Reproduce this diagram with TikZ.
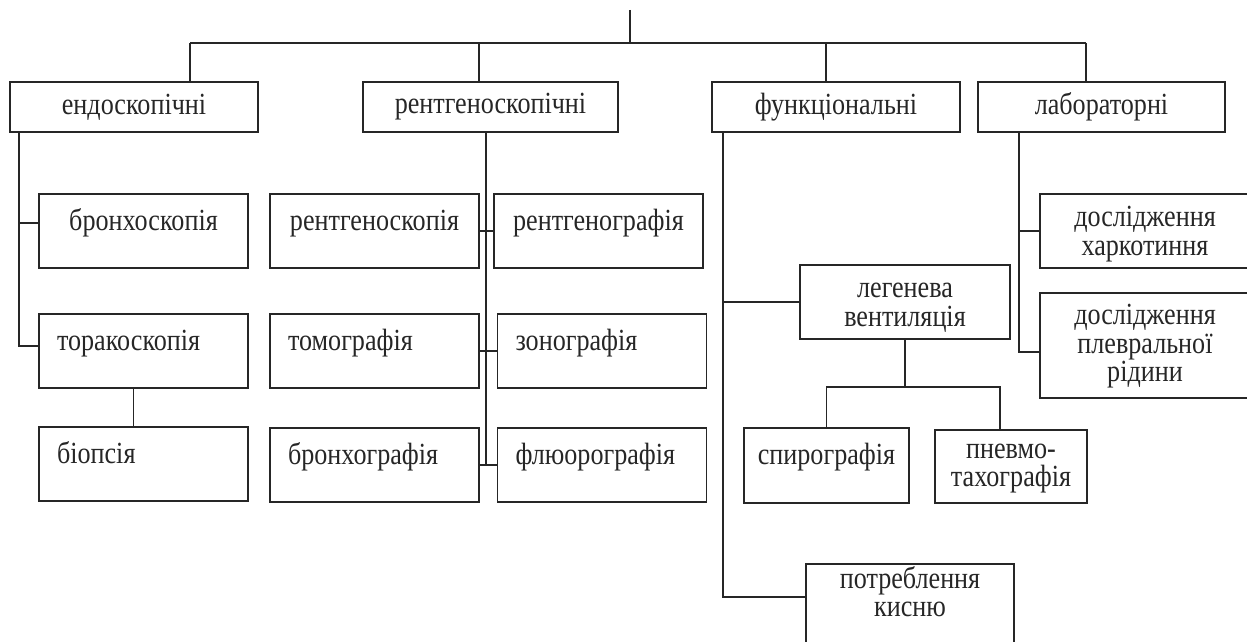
\documentclass[tikz,border=0pt]{standalone}
\usepackage{fontspec}
\setmainfont{Liberation Serif}[FakeStretch=0.85]

\begin{document}
\begin{tikzpicture}[x=0.02cm,y=-0.02cm,line width=1pt,color=black!85]
    \tikzstyle{every node}=[font=\fontsize{17.5}{16.4}\selectfont]
    \tikzstyle{gbox}=[draw, line width=1pt, inner sep=0pt, align=center]
    \tikzstyle{topbox}=[gbox, minimum height=1cm]
    \tikzstyle{sbox}=[gbox, minimum width=4.18cm, minimum height=1.48cm]
    \tikzstyle{upper}=[text height=20.4pt, text depth=21.5pt]
    \tikzstyle{lefttext}=[upper, text width=3.46cm, align=left, inner xsep=0.36cm]
    \tikzstyle{twoline}=[text height=35pt, text depth=7pt]
    \useasboundingbox (0,0) rectangle (1247,642);

	\node[topbox, minimum width=4.96cm] (endo) at (134,107) {ендоскопічні};
	\node[topbox, minimum width=5.1cm] (rentg) at (490.5,107) {рентгеноскопічні};
	\node[topbox, minimum width=4.96cm] (func) at (836,107) {функціональні};
	\node[topbox, minimum width=4.94cm] (lab) at (1101.5,107) {лабораторні};

	\node[sbox, upper] (bronhosk) at (143.5,231) {бронхоскопія};
	\node[sbox, lefttext] (torako) at (143.5,351) {торакоскопія};
	\node[sbox, lefttext] (biopsy) at (143.5,464) {біопсія};

	\node[sbox, upper] (rtgskop) at (374.5,231) {рентгеноскопія};
	\node[sbox, lefttext] (tomo) at (374.5,351) {томографія};
	\node[sbox, lefttext] (bronhogr) at (374.5,465) {бронхографія};

	\node[sbox, upper] (rtggraf) at (598.5,231) {рентгенографія};
	\node[sbox, lefttext] (zono) at (602,351) {зонографія};
	\node[sbox, lefttext] (fluoro) at (602,465) {флюорографія};

	\node[sbox, twoline, minimum width=4.2cm] (legen) at (905,302) {легенева\\ вентиляція};
	\node[sbox, upper, minimum width=3.3cm, minimum height=1.5cm] (spiro) at (826.5,465.5) {спирографія};
	\node[sbox, text height=32.3pt, text depth=9.1pt, minimum width=3.04cm, minimum height=1.46cm] (pnevmo) at (1011,466.5) {пневмо-\\ тахографія};
	\node[gbox, minimum width=4.16cm, text height=30pt, text depth=17.6pt] (potreb) at (910,606) {потреблення\\ кисню};

	\node[sbox, twoline, minimum width=4.2cm] (harkot) at (1145,231) {дослідження\\ харкотиння};
	\node[sbox, text height=50.5pt, text depth=9.1pt, minimum width=4.2cm, minimum height=2.1cm] (plevr) at (1145,345.5) {дослідження\\ плевральної\\ рідини};

	\coordinate (top) at (630,10);
	\coordinate (busL) at (190,43);
	\coordinate (busRg) at (479,43);
	\coordinate (busF) at (826,43);
	\coordinate (busR) at (1086,43);
	\draw (top) -- (top |- busL);
	\draw (busL) -- (busR);
	\draw (busL) -- (busL |- endo.north);
	\draw (busRg) -- (busRg |- rentg.north);
	\draw (busF) -- (busF |- func.north);
	\draw (busR) -- (busR |- lab.north);

	\draw ([xshift=0.2cm]endo.south west) |- ([yshift=0.16cm]bronhosk.west);
	\draw ([xshift=0.2cm]endo.south west) |- ([yshift=0.1cm]torako.west);
	\draw ([xshift=-0.2cm]torako.south) -- ([xshift=-0.2cm]biopsy.north);

	\coordinate (rtgS) at (486,132);
	\draw (rtgS) -- (rtgS |- bronhogr.east);
	\draw (rtgskop.east) -- (rtggraf.west);
	\draw (tomo.east) -- (zono.west);
	\draw (bronhogr.east) -- (fluoro.west);

	\coordinate (funcS) at (723,132);
	\draw (funcS) |- ([yshift=0.18cm]potreb.west);
	\draw (funcS |- legen.west) -- (legen.west);
	\coordinate (ventB) at (905,387);
	\draw (legen.south) -- (ventB);
	\draw (spiro.north) |- (ventB) -| ([xshift=-0.22cm]pnevmo.north);

	\coordinate (labS) at (1019,132);
	\draw (labS) |- (harkot.west);
	\draw (labS) |- ([yshift=-0.13cm]plevr.west);
    \end{tikzpicture}
\end{document}
